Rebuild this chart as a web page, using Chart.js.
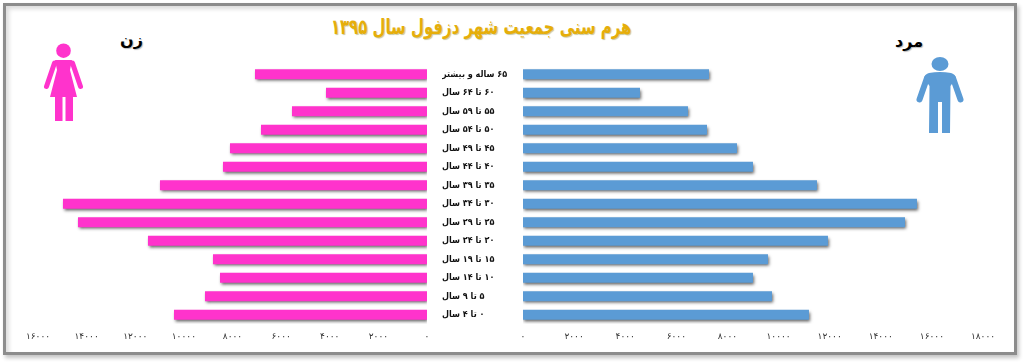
<!DOCTYPE html>
<html lang="fa">
<head>
<meta charset="utf-8">
<title>هرم سنی جمعیت شهر دزفول سال ۱۳۹۵</title>
<script src="https://cdn.jsdelivr.net/npm/chart.js@4/dist/chart.umd.min.js"></script>
<style>
    html, body { margin: 0; padding: 0; background: #fff; }
    body { width: 1024px; height: 363px; position: relative; overflow: hidden; font-family: "DejaVu Sans", sans-serif; }
    #marco {
        position: absolute; left: 3px; top: 3px; width: 1008px; height: 346px;
        border: 3px solid #8c8c8c; background: #fff;
        box-shadow: 2px 3px 4px #c4c4c4, inset 3px 3px 4px #dcdcdc;
    }
    .texto { position: absolute; font-weight: bold; white-space: nowrap; direction: rtl; }
    #titulo {
        right: 393px; top: 12px; font-family: "DejaVu Sans Condensed", "DejaVu Sans", sans-serif;
        font-size: 21px; line-height: 30px; color: #e6ae0a; text-shadow: 1px 1px 1px #c9c9a0;
        transform: scaleX(0.79); transform-origin: right center;
    }
    #mujer { left: 120px; top: 27px; font-size: 16px; line-height: 26px; color: #000; text-shadow: 1px 1px 1px #bbb; }
    #hombre { left: 895px; top: 29px; font-size: 16px; line-height: 26px; color: #000; text-shadow: 1px 1px 1px #bbb; }
    canvas { position: absolute; }
    #graficaMujeres { left: 10px; top: 55px; }
    #graficaHombres { left: 442px; top: 55px; }
    #iconos { position: absolute; left: 0; top: 0; }
</style>
</head>
<body>
<div id="marco"></div>
<div class="texto" id="titulo">هرم سنی جمعیت شهر دزفول سال ۱۳۹۵</div>
<div class="texto" id="mujer">زن</div>
<div class="texto" id="hombre">مرد</div>
<svg id="iconos" width="1024" height="363">
    <!-- mujer -->
    <g fill="#ff33cc" stroke="none">
        <circle cx="63.5" cy="50.7" r="7.3"/>
        <path d="M55 60 L72 60 L70 70 L77 97 L50 97 L57 70 Z"/>
        <rect x="55" y="96" width="7.5" height="25"/>
        <rect x="65.5" y="96" width="7.5" height="25"/>
    </g>
    <g stroke="#ff33cc" stroke-width="5" stroke-linecap="round" fill="none">
        <path d="M54.5 63 L46.5 86.5"/>
        <path d="M72.5 63 L80.5 86.5"/>
    </g>
    <!-- hombre -->
    <g fill="#5b9bd5" stroke="none">
        <ellipse cx="940" cy="64" rx="8.5" ry="7"/>
        <path d="M929 73 Q940 71 951 73 Q955 74 956 78 L950.5 86 L950 133 L942 133 L942 102 L938 102 L938 133 L929 133 L929.5 86 L924 78 Q925 74 929 73 Z"/>
    </g>
    <g stroke="#5b9bd5" stroke-width="6" stroke-linecap="round" fill="none">
        <path d="M927 78 L919.5 99.5"/>
        <path d="M953 78 L960.5 99.5"/>
    </g>
</svg>
<canvas id="graficaMujeres" width="425" height="295"></canvas>
<canvas id="graficaHombres" dir="rtl" width="558" height="295"></canvas>

<script>
const gruposEdad = [
    "۶۵ ساله و بیشتر", "۶۰ تا ۶۴ سال", "۵۵ تا ۵۹ سال", "۵۰ تا ۵۴ سال", "۴۵ تا ۴۹ سال",
    "۴۰ تا ۴۴ سال", "۳۵ تا ۳۹ سال", "۳۰ تا ۳۴ سال", "۲۵ تا ۲۹ سال", "۲۰ تا ۲۴ سال",
    "۱۵ تا ۱۹ سال", "۱۰ تا ۱۴ سال", "۵ تا ۹ سال", "۰ تا ۴ سال"
];
const mujeres = [7075, 4155, 5553, 6828, 8104, 8392, 10983, 14973, 14356, 11477, 8803, 8515, 9132, 10407];
const hombres = [7278, 4578, 6456, 7200, 8373, 8999, 11503, 15416, 14947, 11933, 9586, 8999, 9743, 11190];
const ticksMujeres = ["۰", "۲۰۰۰", "۴۰۰۰", "۶۰۰۰", "۸۰۰۰", "۱۰۰۰۰", "۱۲۰۰۰", "۱۴۰۰۰", "۱۶۰۰۰"];
const ticksHombres = ["۰", "۲۰۰۰", "۴۰۰۰", "۶۰۰۰", "۸۰۰۰", "۱۰۰۰۰", "۱۲۰۰۰", "۱۴۰۰۰", "۱۶۰۰۰", "۱۸۰۰۰"];

// Sombra de las barras
const sombraBarras = {
    id: 'sombraBarras',
    beforeDatasetsDraw(chart) {
        const ctx = chart.ctx;
        ctx.save();
        ctx.shadowColor = 'rgba(50, 50, 50, 0.75)';
        ctx.shadowBlur = 3;
        ctx.shadowOffsetX = 1;
        ctx.shadowOffsetY = 2;
    },
    afterDatasetsDraw(chart) {
        chart.ctx.restore();
    }
};

const fuenteTicks = { family: '"DejaVu Sans"', size: 9, weight: 'normal' };

function ejeX(maximo, etiquetas, invertido) {
    return {
        type: 'linear',
        min: 0,
        max: maximo,
        reverse: invertido,
        border: { display: false },
        grid: { display: false, drawTicks: false },
        afterFit(eje) {
            eje.height = 26;
            // el area de las barras no depende del ancho de las etiquetas
            eje.paddingLeft = 0;
            eje.paddingRight = 0;
        },
        ticks: {
            stepSize: 2000,
            autoSkip: false,
            maxRotation: 0,
            padding: 7,
            color: '#333',
            font: fuenteTicks,
            callback: valor => etiquetas[valor / 2000]
        }
    };
}

function crearPiramide(id, valores, color, opcionesY, escalaX, relleno) {
    return new Chart(document.getElementById(id), {
        type: 'bar',
        data: {
            labels: gruposEdad,
            datasets: [{
                data: valores,
                backgroundColor: color,
                barPercentage: 0.55,
                categoryPercentage: 1
            }]
        },
        options: {
            indexAxis: 'y',
            responsive: false,
            animation: false,
            layout: { padding: relleno },
            plugins: { legend: { display: false }, tooltip: { enabled: false } },
            scales: { x: escalaX, y: opcionesY }
        },
        plugins: [sombraBarras]
    });
}

crearPiramide('graficaMujeres', mujeres, '#ff33cc',
    { display: false },
    ejeX(16000, ticksMujeres, true),
    { left: 28, right: 8, top: 10, bottom: 0 });

crearPiramide('graficaHombres', hombres, '#5b9bd5',
    {
        border: { display: false },
        grid: { display: false, drawTicks: false },
        afterFit(eje) { eje.width = 81; },
        ticks: {
            crossAlign: 'far',
            autoSkip: false,
            color: '#111',
            font: { family: '"DejaVu Sans Condensed"', size: 9, weight: 'bold' }
        }
    },
    ejeX(18000, ticksHombres, false),
    { left: 0, right: 17, top: 10, bottom: 0 });
</script>
</body>
</html>
